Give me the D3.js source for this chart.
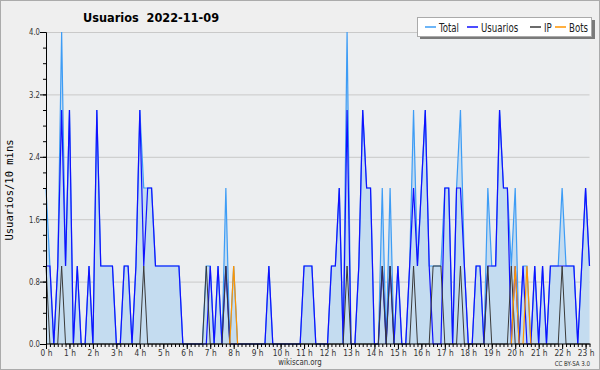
<!DOCTYPE html>
<html>
<head>
<meta charset="utf-8">
<script src="https://cdn.jsdelivr.net/npm/d3@7"></script>
<style>
  body { margin: 0; background: #fff; }
  text { font-family: "DejaVu Sans Condensed", "DejaVu Sans", sans-serif; }
</style>
</head>
<body>
<script>
// 10 minute slots from 0:00
const total = [
  2,1,0,1,4,1,3,0,1,0, 0,1,0,3,1,1,1,1,0,0, 1,1,0,1,3,2,2,2,1,1, 1,1,1,1,1,0,0,0,0,0,
  0,1,1,0,1,0,2,0,1,0, 0,0,0,0,0,0,0,1,0,0, 0,0,0,0,0,0,1,1,1,0, 0,0,0,1,1,2,0,4,0,0,
  1,3,2,2,0,0,2,0,2,0, 1,0,0,1,3,1,2,3,1,1, 1,1,2,2,0,2,3,1,0,0, 1,1,0,2,1,1,3,2,2,1,
  2,0,1,1,0,1,0,1,0,1, 1,1,2,1,1,1,0,1,2,1
];
const usuarios = [
  1,1,0,1,3,1,3,0,1,0, 0,1,0,3,1,1,1,1,0,0, 1,1,0,1,3,1,2,2,1,1, 1,1,1,1,1,0,0,0,0,0,
  0,0,1,0,1,0,1,0,0,0, 0,0,0,0,0,0,0,1,0,0, 0,0,0,0,0,0,1,1,1,0, 0,0,0,1,1,2,0,3,0,0,
  1,3,2,2,0,0,1,0,1,0, 1,0,0,1,2,1,2,3,1,0, 0,0,2,2,0,2,2,1,0,0, 1,1,0,1,1,1,3,2,2,0,
  1,0,1,0,0,1,0,1,0,1, 1,1,1,1,1,1,0,1,2,1
];
const ip = [
  1,0,0,0,1,0,0,0,0,0, 0,0,0,0,0,0,0,0,0,0, 0,0,0,0,0,1,0,0,0,0, 0,0,0,0,0,0,0,0,0,0,
  0,1,0,0,0,0,1,0,0,0, 0,0,0,0,0,0,0,0,0,0, 0,0,0,0,0,0,0,0,0,0, 0,0,0,0,0,0,0,1,0,0,
  0,0,0,0,0,0,1,0,1,0, 0,0,0,0,1,0,0,0,0,1, 1,1,0,0,0,0,1,0,0,0, 0,0,0,1,0,0,0,0,0,1,
  0,0,0,0,0,0,0,0,0,0, 0,0,1,0,0,0,0,0,0,0
];
const bots = [
  0,0,0,0,0,0,0,0,0,0, 0,0,0,0,0,0,0,0,0,0, 0,0,0,0,0,0,0,0,0,0, 0,0,0,0,0,0,0,0,0,0,
  0,0,0,0,0,0,0,0,1,0, 0,0,0,0,0,0,0,0,0,0, 0,0,0,0,0,0,0,0,0,0, 0,0,0,0,0,0,0,0,0,0,
  0,0,0,0,0,0,0,0,0,0, 0,0,0,0,0,0,0,0,0,0, 0,0,0,0,0,0,0,0,0,0, 0,0,0,0,0,0,0,0,0,0,
  1,0,0,1,0,0,0,0,0,0, 0,0,0,0,0,0,0,0,0,0
];
const yTicks = [0, 0.8, 1.6, 2.4, 3.2, 4.0];
const hourLabels = ["0 h","1 h","2 h","3 h","4 h","5 h","6 h","7 h","8 h","9 h","10 h","11 h",
  "12 h","13 h","14 h","15 h","16 h","17 h","18 h","19 h","20 h","21 h","22 h","23 h"];
const seriesNames = ["Total", "Usuarios", "IP", "Bots"];
const seriesColors = ["#3d9cf5", "#1010ff", "#3a3a3a", "#ff9500"];

const W = 600, H = 370;
const mLeft = 46, mRight = 589.5, mTop = 32, mBottom = 344;
const narrow = "scale(0.82,1)";

const svg = d3.select("body").append("svg")
  .attr("width", W)
  .attr("height", H);

svg.append("rect")
  .attr("x", 0.5).attr("y", 0.5)
  .attr("width", W - 1).attr("height", H - 1)
  .attr("fill", "#efefef")
  .attr("stroke", "#ababab");

const x = d3.scaleLinear().domain([0, total.length - 1]).range([mLeft, mRight]);
const y = d3.scaleLinear().domain([0, 4]).range([mBottom, mTop]);

svg.append("rect")
  .attr("x", mLeft).attr("y", mTop)
  .attr("width", mRight - mLeft).attr("height", mBottom - mTop)
  .attr("fill", "#eceef0");

// grid
svg.append("g").selectAll("line")
  .data(yTicks.slice(1))
  .join("line")
  .attr("x1", mLeft).attr("x2", mRight)
  .attr("y1", d => y(d) + 0.5).attr("y2", d => y(d) + 0.5)
  .attr("stroke", "#c9c9c9");

// total area
svg.append("path")
  .datum(total)
  .attr("fill", "#c4dcf0")
  .attr("d", d3.area().x((d, i) => x(i)).y0(y(0)).y1(d => y(d)));

const line = d3.line().x((d, i) => x(i)).y(d => y(d));
[total, usuarios, ip, bots].forEach((s, k) => {
  if (k == 3) {
    // bots only where there is something
    s.forEach((v, i) => {
      if (v > 0) {
        svg.append("path")
          .datum([[i - 1, 0], [i, v], [i + 1, 0]])
          .attr("fill", "none")
          .attr("stroke", seriesColors[k])
          .attr("stroke-width", 1.2)
          .attr("d", d3.line().x(d => x(d[0])).y(d => y(d[1])));
      }
    });
    return;
  }
  svg.append("path")
    .datum(s)
    .attr("fill", "none")
    .attr("stroke", seriesColors[k])
    .attr("stroke-width", k == 2 ? 1 : 1.2)
    .attr("d", line);
});

// y axis
const yAxis = svg.append("g")
  .attr("transform", `translate(${mLeft},0)`)
  .call(d3.axisLeft(y).tickValues(d3.range(0, 4.01, 0.2)).tickSize(3).tickFormat(""));
yAxis.select(".domain").attr("stroke", "#000");
svg.append("g")
  .attr("transform", `translate(${mLeft},0)`)
  .call(d3.axisLeft(y).tickValues(yTicks).tickSize(6).tickFormat(d3.format(".1f")))
  .call(g => g.select(".domain").remove())
  .call(g => g.selectAll("text").attr("font-size", 9).attr("fill", "#333")
    .attr("x", null).attr("transform", "translate(-6,0) scale(0.85,1)")
    .attr("font-family", "'DejaVu Sans Condensed', 'DejaVu Sans', sans-serif"));

// x axis
const xAxis = svg.append("g")
  .attr("transform", `translate(0,${mBottom})`)
  .call(d3.axisBottom(x).tickValues(d3.range(0, total.length)).tickSize(3).tickFormat(""));
xAxis.select(".domain").attr("stroke", "#000").attr("d", `M${mLeft},0H${mRight + 1}`);
svg.append("g")
  .attr("transform", `translate(0,${mBottom})`)
  .call(d3.axisBottom(x).tickValues(hourLabels.map((d, h) => h * 6)).tickSize(5)
    .tickFormat((d, k) => hourLabels[k]))
  .call(g => g.select(".domain").remove())
  .call(g => g.selectAll("text").attr("font-size", 9.5).attr("fill", "#333")
    .attr("y", null).attr("dy", null).attr("transform", "translate(0,11.5) scale(0.87,1)")
    .attr("font-family", "'DejaVu Sans Condensed', 'DejaVu Sans', sans-serif"));

svg.append("text")
  .attr("transform", "translate(13,190) rotate(-90)")
  .attr("text-anchor", "middle")
  .style("font-family", "'DejaVu Sans Mono', monospace")
  .attr("font-size", 10.5)
  .text("Usuarios/10 mins");

svg.append("text")
  .attr("x", 83).attr("y", 22)
  .attr("font-size", 12.6).attr("font-weight", "bold")
  .style("white-space", "pre")
  .text("Usuarios  2022-11-09");

svg.append("text")
  .attr("transform", "translate(300,365) " + narrow)
  .attr("text-anchor", "middle")
  .attr("font-size", 9.5).attr("fill", "#333")
  .text("wikiscan.org");

svg.append("text")
  .attr("transform", "translate(590,366) scale(0.9,1)")
  .attr("text-anchor", "end")
  .attr("font-size", 6.8).attr("fill", "#333")
  .text("CC BY-SA 3.0");

// legend
const lg = svg.append("g").attr("transform", "translate(417,17)");
lg.append("rect").attr("x", 3).attr("y", 3).attr("width", 175).attr("height", 19).attr("fill", "#7a7a7a");
lg.append("rect").attr("x", 0.5).attr("y", 0.5).attr("width", 174).attr("height", 19)
  .attr("fill", "#fff").attr("stroke", "#aaa");
const legendX = [8, 50, 113, 138];
seriesNames.forEach((n, k) => {
  lg.append("line")
    .attr("x1", legendX[k]).attr("x2", legendX[k] + 11)
    .attr("y1", 10).attr("y2", 10)
    .attr("stroke", seriesColors[k]).attr("stroke-width", 1.5);
  lg.append("text")
    .attr("transform", `translate(${legendX[k] + 14},14.5) scale(0.8,1)`)
    .attr("font-size", 12).attr("fill", "#222")
    .text(n);
});
</script>
</body>
</html>
